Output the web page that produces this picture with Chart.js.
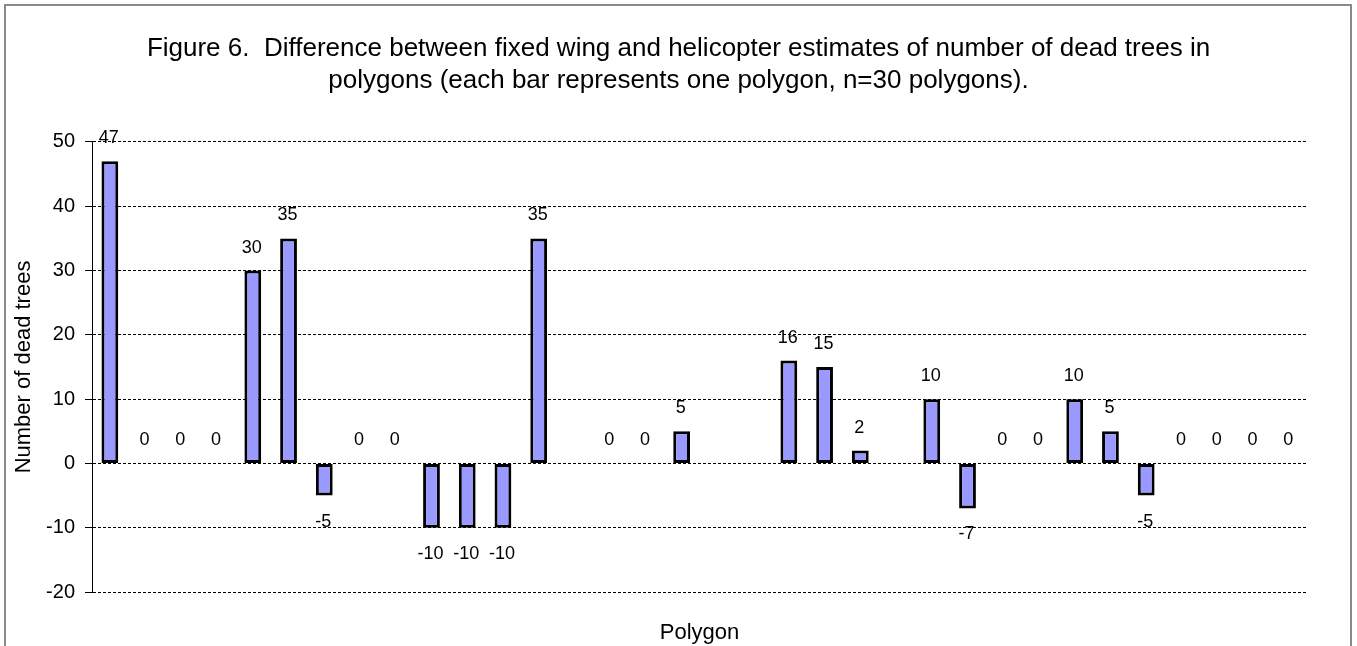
<!DOCTYPE html>
<html>
<head>
<meta charset="utf-8">
<script src="https://cdn.jsdelivr.net/npm/chart.js@4.4.1/dist/chart.umd.min.js"></script>
<style>
  body { margin: 0; background: #fff; }
  #frame { position: absolute; left: 4px; top: 4px; width: 1344px; height: 700px; border: 2px solid #8a8a8a; }
  #chart { position: absolute; left: 0; top: 0; }
</style>
</head>
<body>
<div id="frame"></div>
<canvas id="chart" width="1357" height="646"></canvas>
<script>
// one slot per polygon position; empty slots have no bar
var polygons = ['1', '2', '3', '4', '5', '6', '7', '8', '9', '10', '11', '12', '13', '',
    '14', '15', '16', '', '', '17', '18', '19', '', '20', '21', '22', '23', '24', '25', '26',
    '27', '28', '29', '30'];
var difference = [47, 0, 0, 0, 30, 35, -5, 0, 0, -10, -10, -10, 35, null,
    0, 0, 5, null, null, 16, 15, 2, null, 10, -7, 0, 0, 10, 5, -5,
    0, 0, 0, 0];
var yTicks = [-20, -10, 0, 10, 20, 30, 40, 50];

var titleLines = ['Figure 6.  Difference between fixed wing and helicopter estimates of number of dead trees in',
    'polygons (each bar represents one polygon, n=30 polygons).'];

var fontFamily = '"Liberation Sans", Arial, sans-serif';

// value labels above positive / zero bars and below negative ones
var valueLabels = {
    id: 'valueLabels',
    afterDatasetsDraw: function(chart) {
        var ctx = chart.ctx;
        var meta = chart.getDatasetMeta(0);
        ctx.save();
        ctx.font = '18px ' + fontFamily;
        ctx.fillStyle = '#000';
        ctx.textAlign = 'center';
        ctx.textBaseline = 'middle';
        meta.data.forEach(function(bar, i) {
            var v = difference[i];
            if (v === null) return;
            var y = v < 0 ? bar.y + 26 : bar.y - 23;
            ctx.fillText(String(v), bar.x - 1, y);
        });
        ctx.restore();
    }
};

var ctx = document.getElementById('chart').getContext('2d');
var chart = new Chart(ctx, {
    type: 'bar',
    data: {
        labels: polygons,
        datasets: [{
            data: difference,
            backgroundColor: '#9999FF',
            borderColor: '#000',
            borderWidth: function(c) { return c.raw === 0 ? 0 : 3; },
            borderSkipped: false,
            barPercentage: 0.47,
            categoryPercentage: 1
        }]
    },
    options: {
        responsive: false,
        animation: false,
        layout: {
            padding: { left: 6, right: 6, top: 0, bottom: 0 }
        },
        plugins: {
            legend: { display: false },
            tooltip: { enabled: false },
            title: {
                display: true,
                text: titleLines,
                color: '#000',
                font: { family: fontFamily, size: 26, weight: 'normal', lineHeight: 1.23 },
                padding: { top: 33, bottom: 45 }
            }
        },
        scales: {
            x: {
                grid: { display: false },
                border: { display: false },
                ticks: { display: false },
                title: {
                    display: true,
                    text: 'Polygon',
                    color: '#000',
                    font: { family: fontFamily, size: 22, lineHeight: 1.2 },
                    padding: { top: 0, bottom: 0 }
                },
                afterFit: function(scale) { scale.height = 54; }
            },
            y: {
                min: -20,
                max: 50,
                afterBuildTicks: function(scale) {
                    scale.ticks = yTicks.map(function(v) { return { value: v }; });
                },
                grid: {
                    color: '#000',
                    lineWidth: 1,
                    drawTicks: true,
                    tickLength: 7,
                    tickColor: '#000',
                    tickBorderDash: []
                },
                border: { display: true, color: '#000', width: 1, dash: [3, 2] },
                ticks: {
                    color: '#000',
                    padding: 10,
                    font: { family: fontFamily, size: 20 }
                },
                title: {
                    display: true,
                    text: 'Number of dead trees',
                    color: '#000',
                    font: { family: fontFamily, size: 22, lineHeight: 1.2 },
                    padding: { top: 5, bottom: 0 }
                },
                afterFit: function(scale) { scale.width = 86; }
            },
            // empty right-hand strip so the title stays centred on the page
            yRight: {
                position: 'right',
                display: true,
                grid: { display: false },
                border: { display: false },
                ticks: { display: false },
                afterFit: function(scale) { scale.width = 44; }
            }
        }
    },
    plugins: [valueLabels]
});
</script>
</body>
</html>
